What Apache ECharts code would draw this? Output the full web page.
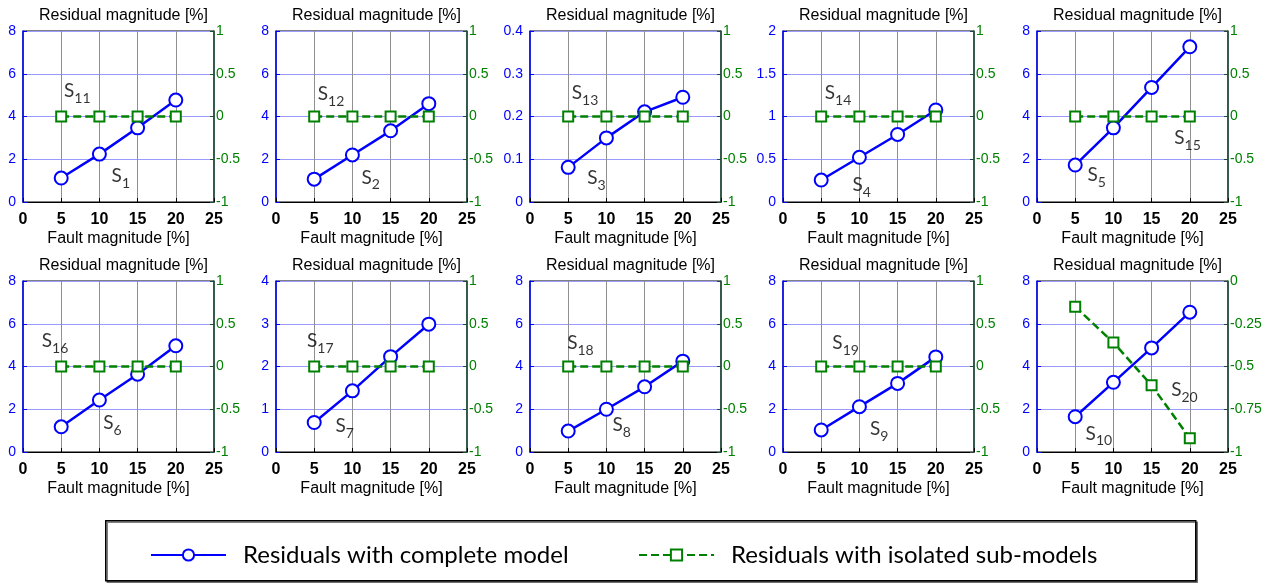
<!DOCTYPE html>
<html>
<head>
<meta charset="utf-8">
<script src="https://cdn.jsdelivr.net/npm/echarts@6/dist/echarts.min.js"></script>
<style>
  html, body { margin: 0; padding: 0; background: #fff; }
  #chart { width: 1282px; height: 583px; }
</style>
</head>
<body>
<div id="chart"></div>
<script>
// fault magnitude [%]
const faultSteps = [5, 10, 15, 20]

// residuals with complete model, one row per subplot (S1..S10)
const completeModel = [
  [1.12, 2.24, 3.47, 4.77],
  [1.07, 2.2, 3.33, 4.6],
  [0.081, 0.15, 0.211, 0.245],
  [0.257, 0.523, 0.79, 1.076],
  [1.73, 3.47, 5.36, 7.26],
  [1.18, 2.43, 3.64, 4.97],
  [0.69, 1.43, 2.23, 2.99],
  [0.98, 2.0, 3.05, 4.25],
  [1.03, 2.12, 3.21, 4.45],
  [1.65, 3.26, 4.87, 6.54],
]

// residuals with isolated sub-models (S11..S20), right axis
const isolatedModels = [
  [0, 0, 0, 0],
  [0, 0, 0, 0],
  [0, 0, 0, 0],
  [0, 0, 0, 0],
  [0, 0, 0, 0],
  [0, 0, 0, 0],
  [0, 0, 0, 0],
  [0, 0, 0, 0],
  [0, 0, 0, 0],
  [-0.15, -0.36, -0.61, -0.92],
]

// axis ranges
const leftMax = [8, 8, 0.4, 2, 8, 8, 4, 8, 8, 8]
const rightMin = [-1, -1, -1, -1, -1, -1, -1, -1, -1, -1]
const rightMax = [1, 1, 1, 1, 1, 1, 1, 1, 1, 0]

// tags: S_k near the blue line, S_(k+10) near the green one, in data units
const mainTagAt = [[12.8, 1.1], [12.4, 1.03], [8.7, 0.051], [10.3, 0.175], [7.8, 1.17],
  [11.7, 1.26], [9.0, 0.56], [12.0, 1.17], [12.6, 0.98], [8.1, 0.75]]
const subTagAt = [[7.1, 5.1], [7.2, 4.95], [7.2, 0.25], [7.2, 1.25], [19.7, 2.9],
  [4.2, 5.1], [5.8, 2.53], [6.6, 5.0], [8.2, 5.0], [19.3, 2.8]]

const NAME_FULL = 'Residuals with complete model'
const NAME_SUB = 'Residuals with isolated sub-models'

const BLUE = '#0000ff'
const GREEN = '#008000'
const AXIS_FONT = 'Liberation Sans, Arial, sans-serif'
const TAG_FONT = 'Lato, Noto Sans, sans-serif'

const colLeft = [23, 276, 530, 783, 1037]
const rowTop = [31, 281]
const plotW = 191
const plotH = 171

const chart = echarts.init(document.getElementById('chart'))

const grid = []
const xAxis = []
const yAxis = []
const series = []
const title = []

const tagRich = {
  s: { fontSize: 19, fontFamily: TAG_FONT, color: '#000', lineHeight: 24, verticalAlign: 'top' },
  sub: { fontSize: 14, fontFamily: TAG_FONT, color: '#000', lineHeight: 24, verticalAlign: 'bottom', padding: [10, 0, 0, 0] },
}

for (let i = 0; i < 10; i++) {
  const left = colLeft[i % 5]
  const top = rowTop[Math.floor(i / 5)]

  grid.push({
    left, top, width: plotW, height: plotH,
    show: true, borderColor: '#000', borderWidth: 1, backgroundColor: '#fff',
  })

  title.push({
    text: 'Residual magnitude [%]',
    left: left + plotW / 2,
    top: top - 28,
    textAlign: 'center',
    textStyle: { fontSize: 16, fontWeight: 'normal', color: '#000', fontFamily: AXIS_FONT },
  })

  xAxis.push({
    type: 'value', gridIndex: i, min: 0, max: 25, interval: 5,
    name: 'Fault magnitude [%]', nameLocation: 'middle', nameGap: 29,
    nameTextStyle: { fontSize: 16, color: '#000', fontFamily: AXIS_FONT },
    axisLine: { onZero: false, lineStyle: { color: '#000', width: 1 } },
    axisTick: { inside: true, length: 4, lineStyle: { color: '#000' } },
    axisLabel: { fontSize: 16, fontWeight: 'bold', color: '#000', margin: 10, fontFamily: AXIS_FONT },
    splitLine: { show: true, lineStyle: { color: '#909090', width: 1 } },
  })

  yAxis.push({
    type: 'value', gridIndex: i, position: 'left', min: 0, max: leftMax[i], interval: leftMax[i] / 4,
    axisLine: { show: true, onZero: false, lineStyle: { color: BLUE, width: 1.5 } },
    axisTick: { show: true, inside: true, length: 4, lineStyle: { color: BLUE } },
    axisLabel: { fontSize: 14, color: BLUE, margin: 7, fontFamily: AXIS_FONT },
    splitLine: { show: true, lineStyle: { color: '#9a9aff', width: 1 } },
  })

  yAxis.push({
    type: 'value', gridIndex: i, position: 'right', min: rightMin[i], max: rightMax[i],
    interval: (rightMax[i] - rightMin[i]) / 4,
    axisLine: { show: true, onZero: false, lineStyle: { color: '#1a4d3a', width: 1.5 } },
    axisTick: { show: true, inside: true, length: 4, lineStyle: { color: '#1a4d3a' } },
    axisLabel: { fontSize: 14, color: GREEN, margin: 2, fontFamily: AXIS_FONT },
    splitLine: { show: false },
  })

  series.push({
    name: NAME_FULL, type: 'line', xAxisIndex: i, yAxisIndex: 2 * i,
    data: faultSteps.map((x, k) => [x, completeModel[i][k]]),
    color: BLUE,
    symbol: 'emptyCircle', symbolSize: 13,
    lineStyle: { color: BLUE, width: 2.5 },
    itemStyle: { color: BLUE, borderColor: BLUE, borderWidth: 2.5 },
    animation: false,
  })

  series.push({
    name: NAME_SUB, type: 'line', xAxisIndex: i, yAxisIndex: 2 * i + 1,
    data: faultSteps.map((x, k) => [x, isolatedModels[i][k]]),
    color: GREEN,
    symbol: 'emptyRect', symbolSize: 10,
    lineStyle: { color: GREEN, width: 2.5, type: [8, 4] },
    itemStyle: { color: GREEN, borderColor: GREEN, borderWidth: 2.5 },
    animation: false,
  })

  series.push({
    type: 'scatter', xAxisIndex: i, yAxisIndex: 2 * i, silent: true,
    symbolSize: 0,
    data: [
      { value: mainTagAt[i], tag: '{s|S}{sub|' + (i + 1) + '}' },
      { value: subTagAt[i], tag: '{s|S}{sub|' + (i + 11) + '}' },
    ],
    label: {
      show: true, position: 'inside',
      formatter: (p) => p.data.tag,
      rich: tagRich,
    },
    animation: false,
  })
}

const legendText = { fontSize: 24, color: '#000', fontFamily: TAG_FONT, padding: [0, 0, 0, 12] }

chart.setOption({
  animation: false,
  title,
  grid,
  xAxis,
  yAxis,
  series,
  legend: [
    { data: [NAME_FULL], left: 145, top: 538, itemWidth: 75, itemHeight: 14, itemGap: 0,
      textStyle: legendText, selectedMode: false },
    { data: [NAME_SUB], left: 633, top: 538, itemWidth: 75, itemHeight: 14, itemGap: 0,
      textStyle: legendText, selectedMode: false },
  ],
  graphic: [
    { type: 'rect', left: 105, top: 520, shape: { width: 1090, height: 60 }, z: -1,
      style: { fill: '#fff', stroke: '#000', lineWidth: 1.5, shadowColor: 'rgba(0,0,0,0.5)', shadowOffsetX: 1.5, shadowOffsetY: 1.5 } },
  ],
})
</script>
</body>
</html>
